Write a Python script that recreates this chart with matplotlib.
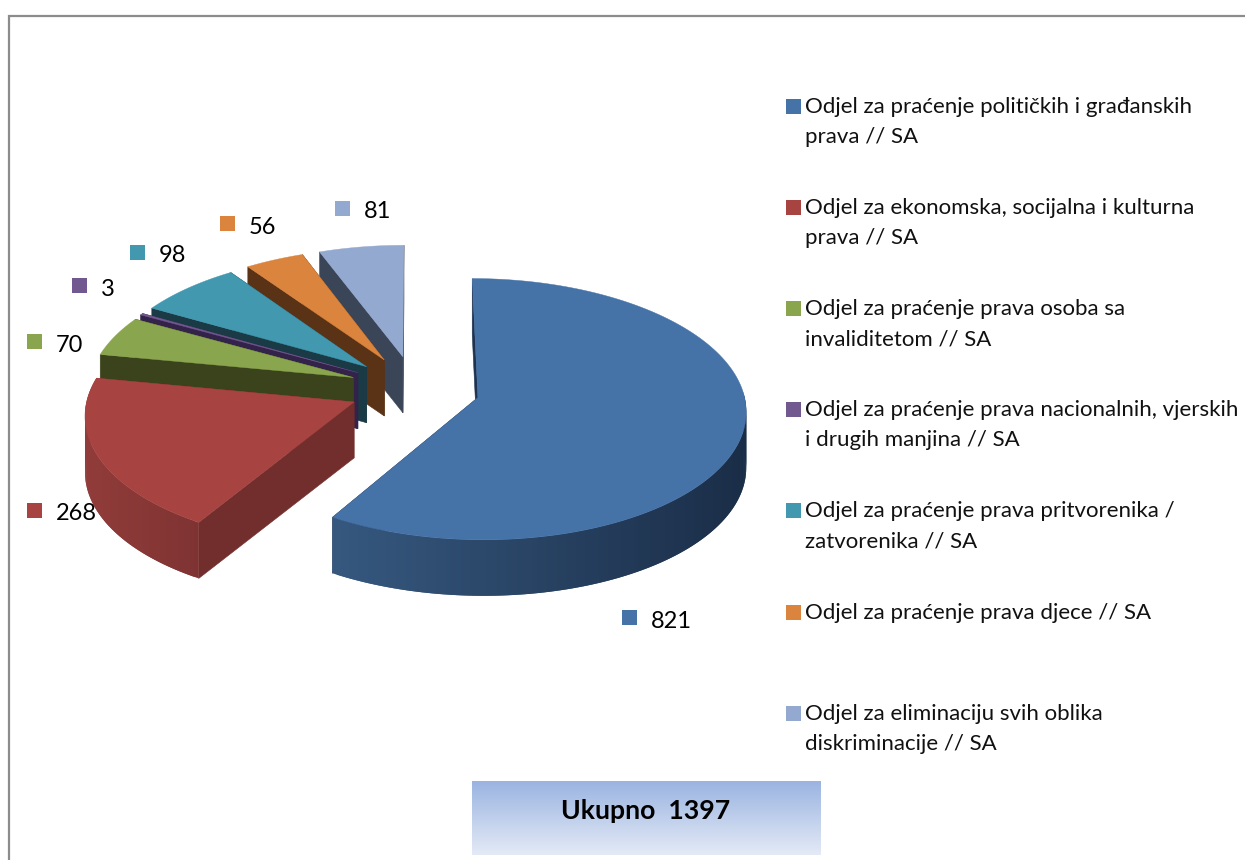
import numpy as np
import matplotlib
matplotlib.use("Agg")
import matplotlib.pyplot as plt
from matplotlib.patches import Polygon, Rectangle
from matplotlib.colors import to_rgb, LinearSegmentedColormap

# ---- data ----
values = [821, 268, 70, 3, 98, 56, 81]
categories = [
    "Odjel za praćenje političkih i građanskih\nprava // SA",
    "Odjel za ekonomska, socijalna i kulturna\nprava // SA",
    "Odjel za praćenje prava osoba sa\ninvaliditetom // SA",
    "Odjel za praćenje prava nacionalnih, vjerskih\ni drugih manjina // SA",
    "Odjel za praćenje prava pritvorenika /\nzatvorenika // SA",
    "Odjel za praćenje prava djece // SA",
    "Odjel za eliminaciju svih oblika\ndiskriminacije // SA",
]
total_label = "Ukupno  1397"

# ---- styles ----
top_colors = ["#4572a7", "#a74442", "#89a54e", "#71588f", "#4198af", "#db843d", "#93a9cf"]
face_colors = ["#1d3350", "#722e2c", "#3a431c", "#33224a", "#1a3a46", "#5a3216", "#3a4558"]
wall_left = ["#36587f", "#913c3a", "#3a431c", "#33224a", "#1a3a46", "#5a3216", "#3a4558"]
wall_right = ["#1a2d47", "#7e3332", "#3a431c", "#33224a", "#1a3a46", "#5a3216", "#3a4558"]
legend_y = [106, 207, 308, 409, 510, 612, 713]
label_squares = [(622, 610), (27, 503), (27, 334), (72, 278), (130, 245), (220, 216), (335, 201)]

plt.rcParams["font.family"] = ["Lato", "DejaVu Sans"]
W, H = 1245, 860
fig = plt.figure(figsize=(W / 100, H / 100), dpi=100)
ax = fig.add_axes([0, 0, 1, 1])
ax.set_xlim(0, W)
ax.set_ylim(H, 0)
ax.axis("off")

# frame
ax.plot([9, 9, W], [H, 16, 16], color="#8c8c8c", lw=1.6, solid_joinstyle="miter")

# ---- pseudo-3D exploded pie ----
CX, CY = 414.5, 388.5
EX, EY = 65.5, 33.0
RX, RY = 265.0, 129.0
DEPTH = 56.0
PERSP = 0.0007


def project(x0, y0):
    g = 1 + PERSP * (y0 - CY)
    return CX + (x0 - CX) * g, CY + (y0 - CY) * g


def hexmix(a, b, t):
    a, b = np.array(to_rgb(a)), np.array(to_rgb(b))
    return tuple(a + (b - a) * t)


fractions = np.array(values) / np.sum(values)
ends = 90 - np.cumsum(fractions) * 360
starts = np.concatenate(([90.0], ends[:-1]))

# back-to-front order: last slices are furthest, then red, then blue
for i in [6, 5, 4, 3, 2, 1, 0]:
    a0, a1 = np.radians(starts[i]), np.radians(ends[i])
    mid = (a0 + a1) / 2
    ax0, ay0 = CX + EX * np.cos(mid), CY - EY * np.sin(mid)
    n = max(3, int(abs(a1 - a0) / np.radians(1.0)))
    th = np.linspace(a0, a1, n)
    rim = np.array([project(ax0 + RX * np.cos(t), ay0 - RY * np.sin(t)) for t in th])
    apex = np.array(project(ax0, ay0))
    down = np.array([0, DEPTH])

    # radial faces; hidden parts are covered by the later top face
    for p in (rim[0], rim[-1]):
        quad = [apex, p, p + down, apex + down]
        ax.add_patch(Polygon(quad, closed=True, fc=face_colors[i], ec=face_colors[i], lw=0.4))

    # outer wall: each quad overlaps the next one so no seams show
    xmin, xmax = rim[:, 0].min(), rim[:, 0].max()
    idx = [j for j in range(n - 1) if np.sin((th[j] + th[j + 1]) / 2) < 0.02 or i == 1]
    if i == 0:
        idx = idx[::-1]
    for j in idx:
        k = min(j + 2, n - 1) if i != 0 else max(j - 1, 0)
        m = j if i != 0 else j + 1
        t = ((rim[j, 0] + rim[j + 1, 0]) / 2 - 333) / (747 - 333) if i == 0 else \
            ((rim[j, 0] + rim[j + 1, 0]) / 2 - xmin) / (xmax - xmin)
        c = hexmix(wall_left[i], wall_right[i], np.clip(t, 0, 1))
        quad = [rim[m], rim[k], rim[k] + down, rim[m] + down]
        ax.add_patch(Polygon(quad, closed=True, fc=c, ec="none", snap=False))
    # top
    ax.add_patch(Polygon(np.vstack([apex, rim]), closed=True, fc=top_colors[i],
                         ec=top_colors[i], lw=0.3))

# ---- data labels ----
for v, (sx, sy), c in zip(values, label_squares, top_colors):
    ax.add_patch(Rectangle((sx, sy), 15, 15, fc=c, ec="none"))
    ax.text(sx + 28.5, sy + 17.5, str(v), fontsize=17, color="black", va="baseline", ha="left")

# ---- legend ----
LINE = 30
for cat, y, c in zip(categories, legend_y, top_colors):
    ax.add_patch(Rectangle((786, y - 7), 14.5, 14.5, fc=c, ec="none"))
    for k, line in enumerate(cat.split("\n")):
        ax.text(805, y + 7 + k * LINE, line, fontsize=16, color="#111111",
                va="baseline", ha="left")

# ---- total box ----
cmap = LinearSegmentedColormap.from_list("box", ["#9ab4e1", "#e4eaf6"])
ax.imshow(np.linspace(0, 1, 100).reshape(-1, 1), cmap=cmap, extent=(472, 821, 855, 781),
          aspect="auto", zorder=2)
ax.set_xlim(0, W)
ax.set_ylim(H, 0)
ax.text(646, 819, total_label, fontsize=19.2, fontweight="bold", ha="center", va="baseline",
        color="black", zorder=3)

fig.savefig("out.png", dpi=100)
